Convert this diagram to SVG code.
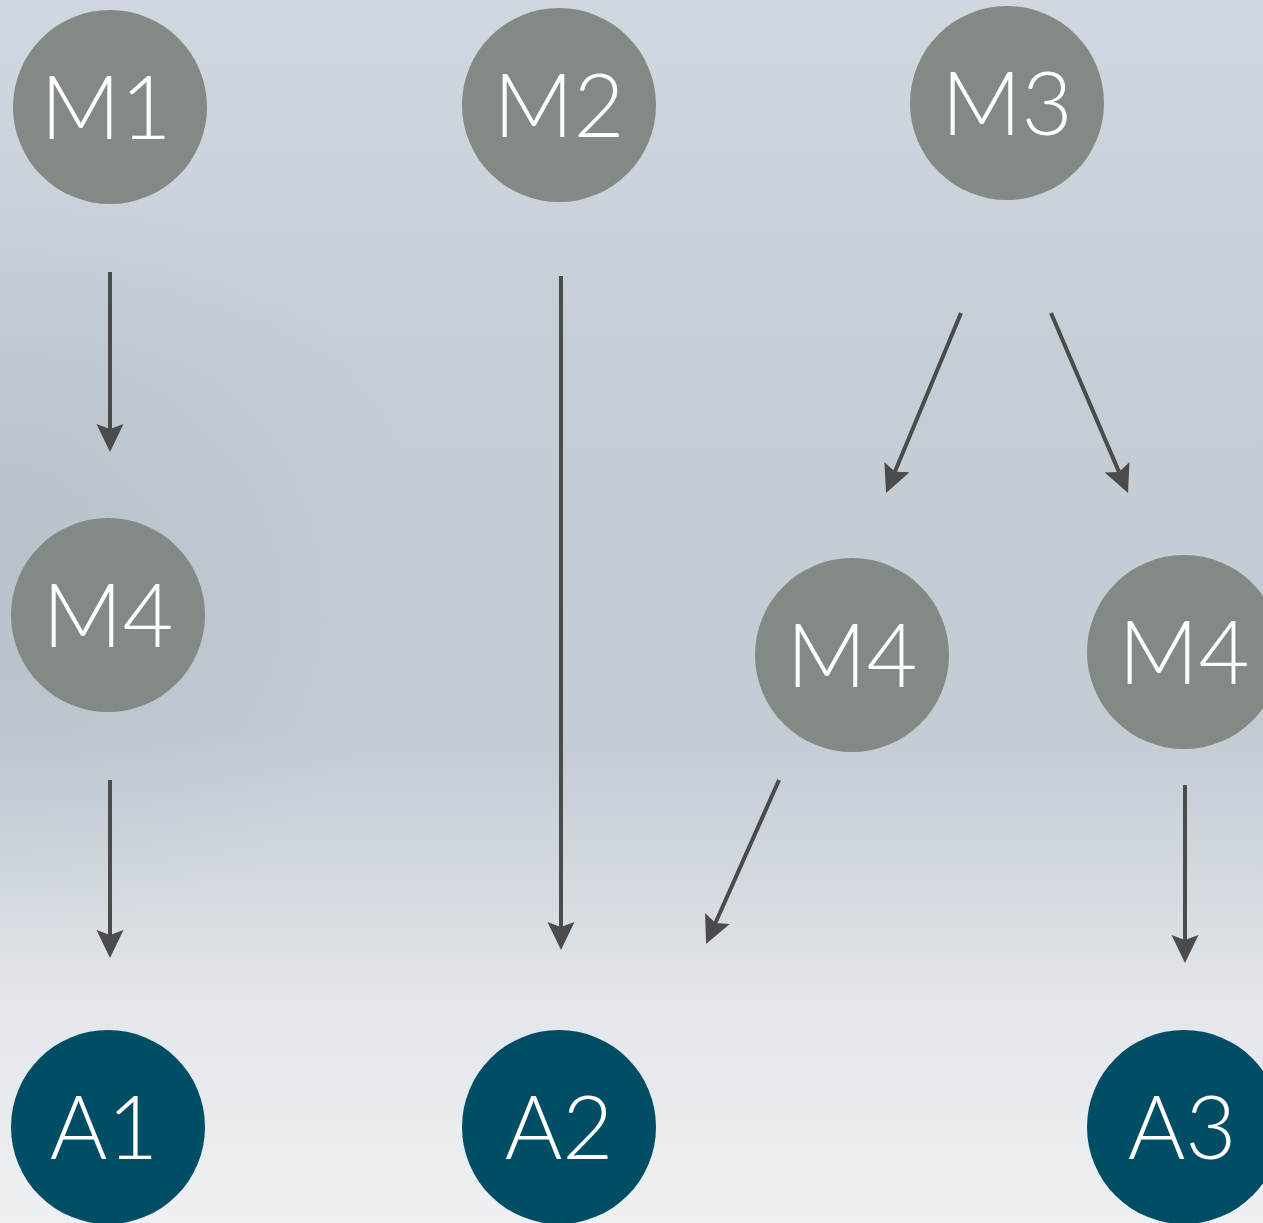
<svg xmlns="http://www.w3.org/2000/svg" width="1263" height="1223" viewBox="0 0 1263 1223">
  <defs>
    <linearGradient id="bgV" x1="0" y1="0" x2="0" y2="1">
      <stop offset="0" stop-color="#d1d7de"/>
      <stop offset="0.3" stop-color="#c5cdd5"/>
      <stop offset="0.6" stop-color="#c3cbd3"/>
      <stop offset="0.72" stop-color="#d3d9df"/>
      <stop offset="0.82" stop-color="#e3e6ea"/>
      <stop offset="1" stop-color="#eef0f3"/>
    </linearGradient>
    <!-- soft darker haze along the left edge -->
    <radialGradient id="bgShade" gradientUnits="userSpaceOnUse" cx="0" cy="560" r="420" gradientTransform="translate(0 560) scale(1 0.9) translate(0 -560)">
      <stop offset="0" stop-color="#a3b3bd" stop-opacity="0.4"/>
      <stop offset="1" stop-color="#a3b3bd" stop-opacity="0"/>
    </radialGradient>
    <!-- notched arrowhead; the line stops at the notch -->
    <marker id="head" markerWidth="30" markerHeight="28" refX="5" refY="13.5" orient="auto" markerUnits="userSpaceOnUse">
      <path d="M0,0 L28,13.5 L0,27 L5,13.5 Z" fill="#4b4b4b"/>
    </marker>
    <style>
      .m { fill: #838985; }
      .a { fill: #004e65; }
      .t { fill: #ffffff; font-family: Lato, "Liberation Sans", sans-serif; font-weight: 300; font-size: 88px; text-anchor: middle; }
      .c { stroke: #4b4b4b; stroke-width: 4; fill: none; marker-end: url(#head); }
    </style>
  </defs>

  <!-- backdrop -->
  <rect x="0" y="0" width="1263" height="1223" fill="url(#bgV)"/>
  <rect x="0" y="0" width="1263" height="1223" fill="url(#bgShade)"/>

  <!-- connectors -->
  <g id="connectors">
    <line class="c" x1="110" y1="272" x2="110" y2="429"/>
    <line class="c" x1="110" y1="780" x2="110" y2="935"/>
    <line class="c" x1="561" y1="276" x2="561" y2="927"/>
    <line class="c" x1="961" y1="313" x2="894.9" y2="471.8"/>
    <line class="c" x1="1051" y1="313" x2="1119" y2="471.9"/>
    <line class="c" x1="779" y1="780" x2="715.4" y2="923"/>
    <line class="c" x1="1185" y1="785" x2="1185" y2="940"/>
  </g>

  <!-- upper row -->
  <g id="node-m1">
    <circle class="m" cx="110" cy="107" r="97"/>
    <text class="t" x="106" y="139">M1</text>
  </g>
  <g id="node-m2">
    <circle class="m" cx="559" cy="105" r="97"/>
    <text class="t" x="559" y="137">M2</text>
  </g>
  <g id="node-m3">
    <circle class="m" cx="1007" cy="103" r="97"/>
    <text class="t" x="1007" y="135">M3</text>
  </g>

  <!-- middle row -->
  <g id="node-m4-left">
    <circle class="m" cx="108" cy="615" r="97"/>
    <text class="t" x="108" y="647">M4</text>
  </g>
  <g id="node-m4-mid">
    <circle class="m" cx="852" cy="655" r="97"/>
    <text class="t" x="852" y="687">M4</text>
  </g>
  <g id="node-m4-right">
    <circle class="m" cx="1184" cy="652" r="97"/>
    <text class="t" x="1184" y="684">M4</text>
  </g>

  <!-- bottom row -->
  <g id="node-a1">
    <circle class="a" cx="108" cy="1127" r="97"/>
    <text class="t" x="104" y="1159">A1</text>
  </g>
  <g id="node-a2">
    <circle class="a" cx="559" cy="1127" r="97"/>
    <text class="t" x="559" y="1159">A2</text>
  </g>
  <g id="node-a3">
    <circle class="a" cx="1184" cy="1127" r="97"/>
    <text class="t" x="1182" y="1159">A3</text>
  </g>
</svg>
